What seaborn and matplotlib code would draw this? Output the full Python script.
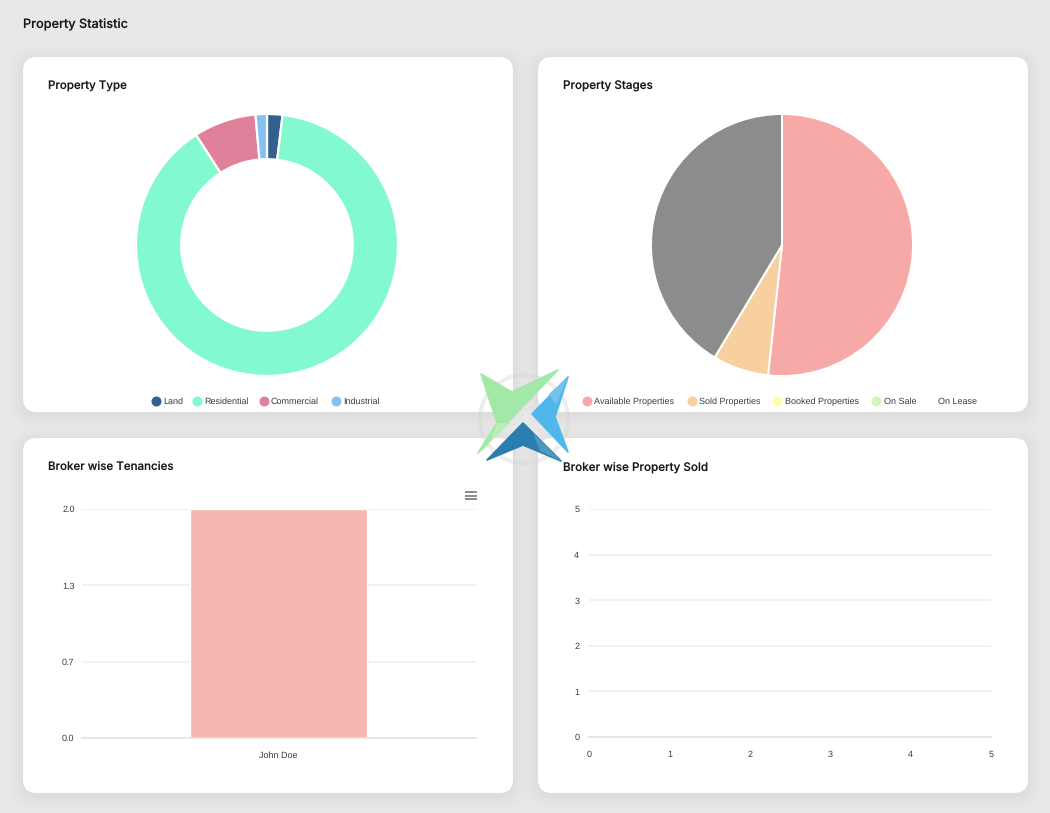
import matplotlib
matplotlib.use('Agg')
import matplotlib.pyplot as plt
from matplotlib.patches import FancyBboxPatch, Polygon, Circle
import pandas as pd
import seaborn as sns

W, H = 1050, 813

type_labels = ['Land', 'Residential', 'Commercial', 'Industrial']
type_values = [1.9, 89.0, 7.7, 1.4]
type_colors = ['#34608f', '#82f9cf', '#e0809a', '#86c0f2']

stage_labels = ['Available Properties', 'Sold Properties', 'Booked Properties', 'On Sale', 'On Lease']
stage_values = [51.7, 6.9, 0, 0, 41.4]
stage_colors = ['#f7a9a8', '#f8d0a0', '#fdfdac', '#cff7c0', '#8c8c8c']

broker_names = ['John Doe']
broker_tenancies = [2]
tenancy_ticks = [0, 2 / 3, 4 / 3, 2]
tenancy_labels = ['0.0', '0.7', '1.3', '2.0']

sold_x = []
sold_y = []
sold_ticks = [0, 1, 2, 3, 4, 5]

sns.set_theme(style='white')
plt.rcParams['font.family'] = ['Liberation Sans', 'DejaVu Sans']
plt.rcParams['text.hinting'] = 'none'
plt.rcParams['text.hinting_factor'] = 1

fig = plt.figure(figsize=(W / 100, H / 100), dpi=100, facecolor='#e8e8e8')


def px_axes(x0, y0, x1, y1, z=2):
    # y measured from the top of the picture, like the screenshot
    return fig.add_axes([x0 / W, 1 - y1 / H, (x1 - x0) / W, (y1 - y0) / H], zorder=z)


bg = px_axes(0, 0, W, H, z=0)
bg.set_xlim(0, W)
bg.set_ylim(H, 0)
bg.axis('off')

for x0, y0, x1, y1 in [(23, 57, 513, 412), (538, 57, 1028, 412), (23, 438, 513, 793), (538, 438, 1028, 793)]:
    for grow in [14, 10, 7, 4, 2]:
        bg.add_patch(FancyBboxPatch((x0 - grow, y0 - grow + 3), x1 - x0 + 2 * grow, y1 - y0 + 2 * grow,
                                    boxstyle='round,pad=0,rounding_size=%d' % (14 + grow),
                                    fc='#000000', ec='none', alpha=0.007))
    bg.add_patch(FancyBboxPatch((x0, y0), x1 - x0, y1 - y0, boxstyle='round,pad=0,rounding_size=14',
                                fc='white', ec='none'))

title_font = dict(family=['Inter', 'DejaVu Sans'], fontweight='medium', color='#17171c', va='center')
bg.text(23, 24.5, 'Property Statistic', fontsize=9.15, **title_font)
bg.text(48, 86, 'Property Type', fontsize=8.3, **title_font)
bg.text(563, 86, 'Property Stages', fontsize=8.4, **title_font)
bg.text(48, 467.5, 'Broker wise Tenancies', fontsize=8.3, **title_font)
bg.text(563, 467, 'Broker wise Property Sold', fontsize=8.4, **title_font)

# donut
ax = px_axes(136, 114, 398, 376)
ax.pie(type_values, colors=type_colors, startangle=90, counterclock=False, radius=1,
       wedgeprops=dict(width=0.345, edgecolor='white', linewidth=1.6))
ax.set_xlim(-1, 1)
ax.set_ylim(-1, 1)

# pie
ax = px_axes(651, 114, 913, 376)
ax.pie(stage_values, colors=stage_colors, startangle=90, counterclock=False, radius=1,
       wedgeprops=dict(edgecolor='white', linewidth=1.4))
ax.set_xlim(-1, 1)
ax.set_ylim(-1, 1)

# legends
legend_font = dict(fontsize=6.8, color='#373d3f', va='center')
for label, color, mx, tx in zip(type_labels, type_colors, [156, 197, 264, 336], [163, 204, 271, 343]):
    bg.plot([mx], [400.5], 'o', ms=7.2, color=color, mew=0)
    bg.text(tx, 401.5, label, **legend_font)
for label, color, mx, tx in zip(stage_labels[:4], stage_colors[:4], [587, 692, 777, 876], [594, 699, 785, 884]):
    bg.plot([mx], [400.5], 'o', ms=7.2, color=color, mew=0)
    bg.text(tx, 401.5, label, **legend_font)
bg.text(938, 401.5, stage_labels[4], **legend_font)

# tenancies bar
ax = px_axes(81.5, 509, 475.5, 738)
ax.patch.set_alpha(0)
frame = pd.DataFrame({'broker': broker_names, 'tenancies': broker_tenancies})
ax.yaxis.grid(True, color='#f0f0f0', linewidth=1.3)
ax.set_axisbelow(True)
sns.barplot(data=frame, x='broker', y='tenancies', color='#f6b6b2', saturation=1, width=0.45, ax=ax)
ax.set_xlim(-0.5, 0.5)
ax.set_ylim(0, 2)
ax.set_yticks(tenancy_ticks, tenancy_labels)
ax.set_xlabel('')
ax.set_ylabel('')
sns.despine(ax=ax, left=True, top=True, right=True)
ax.spines['bottom'].set_color('#e4e4e4')
ax.tick_params(axis='y', length=0, labelsize=6.8, labelcolor='#373d3f', pad=5)
ax.tick_params(axis='x', length=0, labelsize=6.8, labelcolor='#373d3f', pad=9.5)
for label in ax.get_yticklabels():
    label.set_va('center_baseline')
for s in [492, 495.5, 499]:
    bg.plot([464.5, 476.5], [s, s], color='#6e6e6e', lw=1.1, solid_capstyle='butt')

# property sold, no records so only the axes show
ax = px_axes(589, 509, 991, 737)
ax.patch.set_alpha(0)
sns.lineplot(x=sold_x, y=sold_y, ax=ax)
ax.set_xlim(0, 5)
ax.set_ylim(0, 5)
ax.set_xticks(sold_ticks)
ax.set_yticks(sold_ticks)
ax.yaxis.grid(True, color='#eeeeee', linewidth=1.1)
sns.despine(ax=ax, left=True, top=True, right=True)
ax.spines['bottom'].set_color('#e4e4e4')
ax.tick_params(axis='both', length=0, labelsize=6.8, labelcolor='#373d3f')
ax.tick_params(axis='y', pad=7)
ax.tick_params(axis='x', pad=10)
for label in ax.get_yticklabels():
    label.set_va('center_baseline')

# loading logo sits on top of everything
top = px_axes(0, 0, W, H, z=5)
top.set_xlim(0, W)
top.set_ylim(H, 0)
top.axis('off')
top.patch.set_alpha(0)
top.add_patch(Circle((524, 419), 44, fc='none', ec='#d6d6d6', lw=3, alpha=0.4))
logo_edge = dict(lw=1.2, joinstyle='round')
top.add_patch(Polygon([(481, 374), (512, 392), (558, 370), (478, 453), (497, 423)], fc='#a2e8a6', ec='#a2e8a6', **logo_edge))
top.add_patch(Polygon([(489, 445), (497, 423), (510, 423), (479, 453)], fc='#b8eeb9', ec='none'))
top.add_patch(Polygon([(568, 377), (532, 414), (568, 452), (555, 417)], fc='#4fb7ec', ec='#4fb7ec', **logo_edge))
top.add_patch(Polygon([(568, 377), (549, 394), (556, 405)], fc='#72c4ef', ec='none'))
top.add_patch(Polygon([(487, 460), (523, 423), (561, 461), (523, 445)], fc='#2a7db0', ec='#2a7db0', **logo_edge))
top.add_patch(Polygon([(533, 433), (561, 461), (540, 451)], fc='#5198bd', ec='none'))

fig.savefig('out.png', dpi=100, facecolor=fig.get_facecolor())
